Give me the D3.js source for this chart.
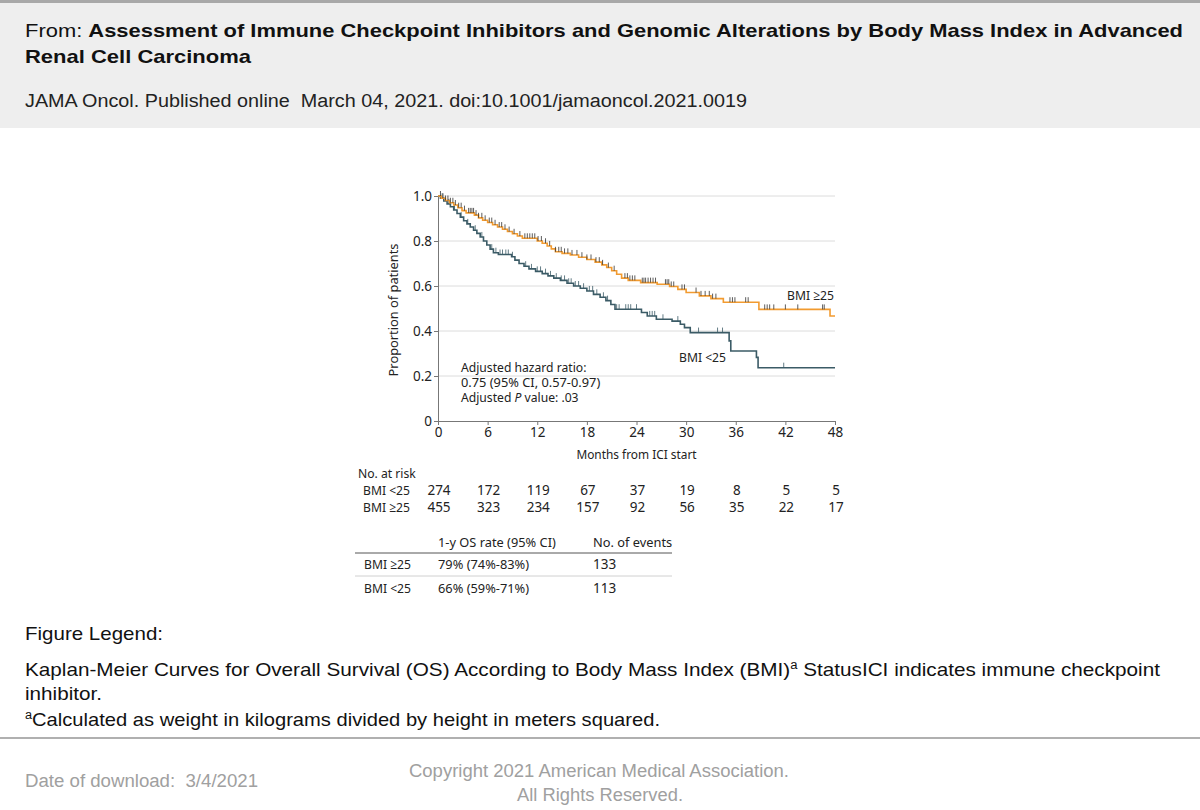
<!DOCTYPE html>
<html>
<head>
<meta charset="utf-8">
<script src="https://cdn.jsdelivr.net/npm/d3@7"></script>
<style>
  body { margin: 0; background: #fff; }
  .arial { font-family: "Liberation Sans", Arial, sans-serif; white-space: pre; }
  .plot text { font-family: "Noto Sans", "Open Sans", sans-serif; font-size: 13.5px; fill: #222; }
</style>
</head>
<body>
<svg id="chart" width="1200" height="810"></svg>
<script>
// x axis ticks (months) and y axis ticks
const months = [0, 6, 12, 18, 24, 30, 36, 42, 48];
const yTicks = [0, 0.2, 0.4, 0.6, 0.8, 1.0];
const gridTicks = [0.2, 0.4, 0.6, 0.8, 1.0];

// BMI >=25 step curve (time of drop, survival after drop)
const timesHigh = [0, 0.4, 0.9, 1.4, 1.9, 2.4, 2.9, 3.4, 4.4, 4.9, 5.4, 6.0, 6.6, 7.2, 7.8, 8.4, 9.0, 9.6, 10.2,
  12.0, 12.6, 13.2, 13.7, 14.2, 15.0, 16.0, 17.0, 18.0, 19.0, 19.8, 20.4, 21.0, 21.6, 22.2, 23.0, 24.5, 26.5,
  28.0, 29.0, 30.0, 31.6, 33.0, 34.5, 38.8, 47.4];
const survHigh = [1.0, 0.99, 0.98, 0.97, 0.96, 0.948, 0.935, 0.925, 0.915, 0.903, 0.892, 0.882, 0.872, 0.862, 0.852, 0.842, 0.832, 0.822, 0.812,
  0.8, 0.79, 0.778, 0.765, 0.752, 0.745, 0.738, 0.728, 0.718, 0.706, 0.694, 0.682, 0.668, 0.652, 0.635, 0.625, 0.615, 0.608,
  0.598, 0.585, 0.571, 0.556, 0.544, 0.528, 0.496, 0.467];
const censorHigh = [0.3, 0.6, 0.9, 1.2, 1.5, 1.8, 2.1, 2.5, 2.8, 3.2, 3.7, 3.9, 4.1, 4.3, 4.6, 4.9, 5.3, 5.7, 6.2, 6.5,
  6.9, 7.4, 7.7, 8.1, 8.6, 9.2, 9.9, 10.5, 10.8, 11.1, 11.4, 11.7, 12.1, 12.5, 13.0, 13.5, 14.2, 14.6, 14.9, 15.3,
  15.7, 16.2, 16.8, 17.4, 18.0, 18.5, 19.1, 19.5, 19.9, 20.6, 21.3, 22.6, 22.9, 23.2, 23.5, 23.8, 24.7, 24.9, 25.1,
  25.4, 25.7, 26.0, 26.3, 27.5, 27.7, 27.9, 28.2, 28.5, 29.5, 29.8, 31.2, 31.8, 32.3, 32.8, 33.2, 33.6, 35.3, 35.6,
  35.9, 37.2, 37.5, 39.5, 39.8, 40.1, 40.6, 42.0, 43.5, 46.5, 46.7];

// BMI <25 step curve
const timesLow = [0, 0.3, 0.7, 1.1, 1.5, 1.9, 2.3, 2.7, 3.1, 3.5, 3.9, 4.3, 4.7, 5.1, 5.5, 5.9, 6.3, 6.7, 7.3, 8.9,
  9.3, 9.8, 10.4, 11.0, 11.8, 12.6, 13.3, 14.0, 14.8, 15.6, 16.4, 17.2, 18.0, 18.8, 19.6, 20.3, 20.9, 21.4, 24.6,
  25.3, 26.4, 28.3, 29.3, 29.8, 30.5, 35.2, 35.4, 38.5, 38.7];
const survLow = [1.0, 0.99, 0.978, 0.965, 0.952, 0.938, 0.922, 0.906, 0.89, 0.876, 0.862, 0.848, 0.834, 0.818, 0.8, 0.782, 0.764, 0.748, 0.74, 0.73,
  0.715, 0.7, 0.688, 0.676, 0.665, 0.655, 0.645, 0.635, 0.625, 0.612, 0.6, 0.59, 0.578, 0.563, 0.55, 0.535, 0.518, 0.497, 0.482,
  0.467, 0.452, 0.444, 0.43, 0.415, 0.393, 0.356, 0.311, 0.283, 0.237];
const censorLow = [0.5, 1.3, 2.0, 2.8, 3.6, 4.5, 5.3, 6.5, 7.0, 7.5, 7.8, 8.2, 8.5, 9.0, 10.6, 11.3, 12.0, 12.4, 13.0,
  13.6, 14.3, 14.9, 15.3, 15.8, 16.1, 16.6, 17.0, 17.6, 18.3, 18.7, 19.2, 20.0, 20.5, 21.6, 21.9, 22.7, 23.0, 23.3,
  24.0, 25.6, 25.9, 26.2, 27.2, 29.0, 31.5, 33.8, 34.4, 41.8];

// numbers at risk
const riskGroups = ['BMI <25', 'BMI \u226525'];
const atRiskLow = [274, 172, 119, 67, 37, 19, 8, 5, 5];
const atRiskHigh = [455, 323, 234, 157, 92, 56, 35, 22, 17];

// summary table
const tableGroups = ['BMI \u226525', 'BMI <25'];
const osRates = ['79% (74%-83%)', '66% (59%-71%)'];
const events = [133, 113];

const orange = '#f29b30';
const slate = '#3b5b66';
const squeeze = 0.9; // the figure font is a condensed face

const svg = d3.select('#chart');

// header block
svg.append('rect').attr('x', 0).attr('y', 0).attr('width', 1200).attr('height', 128).attr('fill', '#eeeeee');
svg.append('rect').attr('x', 0).attr('y', 0).attr('width', 1200).attr('height', 3).attr('fill', '#a8a8a8');

const head1 = svg.append('text').attr('class', 'arial').attr('x', 25).attr('y', 37)
  .attr('font-size', 19).attr('fill', '#111')
  .attr('textLength', 1158).attr('lengthAdjust', 'spacingAndGlyphs');
head1.append('tspan').text('From: ');
head1.append('tspan').attr('font-weight', 'bold')
  .text('Assessment of Immune Checkpoint Inhibitors and Genomic Alterations by Body Mass Index in Advanced');
svg.append('text').attr('class', 'arial').attr('x', 25).attr('y', 63)
  .attr('font-size', 19).attr('font-weight', 'bold').attr('fill', '#111')
  .attr('textLength', 226).attr('lengthAdjust', 'spacingAndGlyphs')
  .text('Renal Cell Carcinoma');
svg.append('text').attr('class', 'arial').attr('x', 25).attr('y', 107)
  .attr('font-size', 18).attr('fill', '#222')
  .attr('textLength', 722).attr('lengthAdjust', 'spacingAndGlyphs')
  .text('JAMA Oncol. Published online  March 04, 2021. doi:10.1001/jamaoncol.2021.0019');

// plot
const plot = svg.append('g').attr('class', 'plot');
const x = d3.scaleLinear().domain([0, 48]).range([438, 835]);
const y = d3.scaleLinear().domain([0, 1]).range([421, 196]);

// condensed text helper
function label(parent, px, py, txt, anchor, sx) {
  return parent.append('text')
    .attr('transform', 'translate(' + px + ',' + py + ') scale(' + (sx || squeeze) + ',1)')
    .attr('text-anchor', anchor || 'start')
    .text(txt);
}

plot.selectAll('.grid')
  .data(gridTicks)
  .enter().append('line')
  .attr('class', 'grid')
  .attr('x1', x(0)).attr('x2', x(48))
  .attr('y1', d => y(d)).attr('y2', d => y(d))
  .attr('stroke', '#dcdcdc').attr('stroke-width', 1);

const yAxis = plot.append('g')
  .attr('transform', 'translate(' + x(0) + ',0)')
  .call(d3.axisLeft(y).tickValues(yTicks).tickSize(4).tickSizeOuter(0)
    .tickFormat(d => d === 0 ? '0' : d.toFixed(1)));
const xAxis = plot.append('g')
  .attr('transform', 'translate(0,' + y(0) + ')')
  .call(d3.axisBottom(x).tickValues(months).tickSize(4).tickSizeOuter(0));
[yAxis, xAxis].forEach(a => {
  a.select('.domain').attr('stroke', '#777');
  a.selectAll('.tick line').attr('stroke', '#777');
  a.selectAll('text').attr('font-size', 14).attr('font-family', '"Noto Sans", sans-serif').attr('fill', '#222');
});
yAxis.selectAll('text').attr('x', -6);
xAxis.selectAll('text').attr('y', 6);

plot.append('text')
  .attr('transform', 'translate(398,310) rotate(-90) scale(0.95,1)')
  .attr('text-anchor', 'middle')
  .attr('font-size', 14)
  .text('Proportion of patients');
label(plot, x(24), 459, 'Months from ICI start', 'middle', 0.88).attr('font-size', 14);

// survival curves
const line = d3.line()
  .x(d => x(d[0]))
  .y(d => y(d[1]))
  .curve(d3.curveStepAfter);

function drawCurve(times, surv, censor, color, tickColor) {
  const pts = times.map((t, i) => [t, surv[i]]);
  pts.push([48, surv[surv.length - 1]]);
  plot.append('path')
    .datum(pts)
    .attr('d', line)
    .attr('fill', 'none')
    .attr('stroke', color)
    .attr('stroke-width', 1.6);
  const survAt = t => surv[Math.max(0, d3.bisectRight(times, t) - 1)];
  plot.selectAll(null)
    .data(censor)
    .enter().append('line')
    .attr('x1', d => x(d)).attr('x2', d => x(d))
    .attr('y1', d => y(survAt(d)) - 5)
    .attr('y2', d => y(survAt(d)))
    .attr('stroke', tickColor)
    .attr('stroke-width', 0.8);
}
drawCurve(timesLow, survLow, censorLow, slate, slate);
drawCurve(timesHigh, survHigh, censorHigh, orange, '#333');

label(plot, 787, 300, 'BMI \u226525');
label(plot, 679, 362, 'BMI <25');

label(plot, 461, 372, 'Adjusted hazard ratio:');
label(plot, 461, 387, '0.75 (95% CI, 0.57-0.97)', 'start', 0.95);
const pLine = label(plot, 461, 402, '');
pLine.append('tspan').text('Adjusted ');
pLine.append('tspan').attr('font-style', 'italic').text('P');
pLine.append('tspan').text(' value: .03');

// numbers at risk
label(plot, 358, 478, 'No. at risk');
[atRiskLow, atRiskHigh].forEach((row, i) => {
  const ry = 495 + i * 17;
  label(plot, 363, ry, riskGroups[i]);
  plot.selectAll(null)
    .data(row)
    .enter().append('text')
    .attr('x', (d, j) => x(months[j]) + 1)
    .attr('y', ry)
    .attr('text-anchor', 'middle')
    .attr('font-size', 13)
    .text(d => d);
});

// summary table
label(plot, 438, 547, '1-y OS rate (95% CI)', 'start', 0.95);
label(plot, 593, 547, 'No. of events', 'start', 0.95);
plot.append('line').attr('x1', 355).attr('x2', 672).attr('y1', 553).attr('y2', 553)
  .attr('stroke', '#555').attr('stroke-width', 1);
plot.append('line').attr('x1', 355).attr('x2', 672).attr('y1', 576).attr('y2', 576)
  .attr('stroke', '#d0d0d0').attr('stroke-width', 1);
tableGroups.forEach((g, i) => {
  const ry = 569 + i * 24;
  label(plot, 364, ry, g);
  label(plot, 438, ry, osRates[i], 'start', 0.95);
  label(plot, 593, ry, events[i], 'start', 1);
});

// figure legend
svg.append('text').attr('class', 'arial').attr('x', 25).attr('y', 640)
  .attr('font-size', 19).attr('fill', '#111')
  .attr('textLength', 138).attr('lengthAdjust', 'spacingAndGlyphs')
  .text('Figure Legend:');
const leg = svg.append('text').attr('class', 'arial').attr('x', 25).attr('y', 676)
  .attr('font-size', 19).attr('fill', '#111')
  .attr('textLength', 1135).attr('lengthAdjust', 'spacingAndGlyphs');
leg.append('tspan').text('Kaplan-Meier Curves for Overall Survival (OS) According to Body Mass Index (BMI)');
leg.append('tspan').attr('font-size', 12).attr('dy', -7).text('a');
leg.append('tspan').attr('dy', 7).text(' StatusICI indicates immune checkpoint');
svg.append('text').attr('class', 'arial').attr('x', 25).attr('y', 700)
  .attr('font-size', 19).attr('fill', '#111')
  .attr('textLength', 77).attr('lengthAdjust', 'spacingAndGlyphs')
  .text('inhibitor.');
const foot = svg.append('text').attr('class', 'arial').attr('x', 25).attr('y', 726)
  .attr('font-size', 19).attr('fill', '#111')
  .attr('textLength', 635).attr('lengthAdjust', 'spacingAndGlyphs');
foot.append('tspan').attr('font-size', 12).attr('dy', -7).text('a');
foot.append('tspan').attr('dy', 7).text('Calculated as weight in kilograms divided by height in meters squared.');

svg.append('rect').attr('x', 0).attr('y', 737).attr('width', 1200).attr('height', 2).attr('fill', '#b0b0b0');

svg.append('text').attr('class', 'arial').attr('x', 25).attr('y', 787)
  .attr('font-size', 18).attr('fill', '#a0a0a0')
  .attr('textLength', 233).attr('lengthAdjust', 'spacingAndGlyphs')
  .text('Date of download:  3/4/2021');
svg.append('text').attr('class', 'arial').attr('x', 599).attr('y', 777)
  .attr('font-size', 18).attr('fill', '#a0a0a0').attr('text-anchor', 'middle')
  .attr('textLength', 380).attr('lengthAdjust', 'spacingAndGlyphs')
  .text('Copyright 2021 American Medical Association.');
svg.append('text').attr('class', 'arial').attr('x', 600).attr('y', 801)
  .attr('font-size', 18).attr('fill', '#a0a0a0').attr('text-anchor', 'middle')
  .attr('textLength', 166).attr('lengthAdjust', 'spacingAndGlyphs')
  .text('All Rights Reserved.');
</script>
</body>
</html>
